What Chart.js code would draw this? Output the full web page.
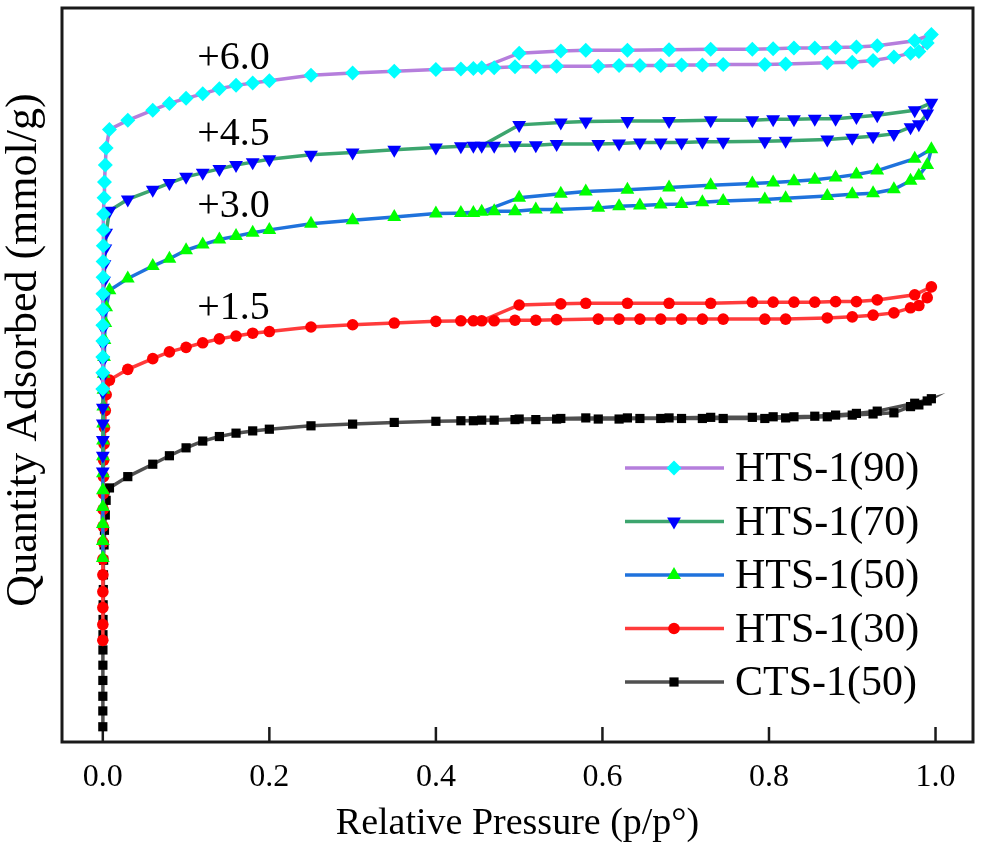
<!DOCTYPE html>
<html>
<head>
<meta charset="utf-8">
<script src="https://cdn.jsdelivr.net/npm/chart.js"></script>
<style>
  html, body { margin: 0; padding: 0; background: #fff; }
  #wrap { width: 981px; height: 847px; }
</style>
</head>
<body>
<div id="wrap"><canvas id="graph" width="981" height="847"></canvas></div>
<script>
// relative pressure grids (p/p0)
const LOW_P = [0.00001, 0.00002, 0.00004, 0.00007, 0.0001, 0.00015, 0.0002, 0.0003,
               0.0004, 0.0006, 0.0008, 0.001, 0.0015, 0.002, 0.003, 0.004];
const ADS_P = [0.008, 0.03, 0.06, 0.08, 0.10, 0.12, 0.14, 0.16, 0.18, 0.20, 0.25, 0.30,
               0.35, 0.40, 0.445, 0.47, 0.495, 0.52, 0.545, 0.595, 0.62, 0.645, 0.67, 0.695,
               0.72, 0.745, 0.795, 0.82, 0.87, 0.90, 0.925, 0.95, 0.97, 0.98, 0.99, 0.995];
const DES_P = [0.975, 0.93, 0.905, 0.88, 0.855, 0.83, 0.805, 0.78, 0.73, 0.68, 0.63, 0.58,
               0.55, 0.50, 0.455, 0.43];

// quantity adsorbed (mmol/g), before the vertical offset
const hts90Low = [0.25, 0.54, 0.82, 1.10, 1.38, 1.66, 1.94, 2.23, 2.51, 2.79, 3.07, 3.35, 3.64, 3.92, 4.22, 4.52];
const hts90Ads = [4.85, 5.01, 5.19, 5.31, 5.40, 5.48, 5.57, 5.63, 5.67, 5.71, 5.81, 5.85, 5.88, 5.91, 5.93, 5.94,
                  5.96, 5.96, 5.97, 5.97, 5.98, 5.98, 5.98, 5.99, 5.99, 6.00, 6.00, 6.01, 6.03, 6.04, 6.07, 6.13,
                  6.20, 6.23, 6.38, 6.53];
const hts90Des = [6.42, 6.33, 6.31, 6.30, 6.29, 6.29, 6.28, 6.27, 6.27, 6.26, 6.25, 6.25, 6.24, 6.20, 5.94, 5.92];

const hts70Low = [0.29, 0.57, 0.85, 1.14, 1.42, 1.70, 1.98, 2.26, 2.55, 2.83, 3.11, 3.39, 3.67, 3.96, 4.24, 4.52];
const hts70Ads = [4.91, 5.11, 5.28, 5.40, 5.51, 5.58, 5.65, 5.72, 5.77, 5.82, 5.90, 5.94, 5.99, 6.03, 6.06, 6.06,
                  6.07, 6.07, 6.09, 6.09, 6.10, 6.12, 6.12, 6.12, 6.13, 6.13, 6.14, 6.15, 6.17, 6.20, 6.23, 6.27,
                  6.39, 6.44, 6.63, 6.82];
const hts70Des = [6.69, 6.60, 6.57, 6.54, 6.54, 6.53, 6.53, 6.51, 6.51, 6.50, 6.50, 6.49, 6.47, 6.43, 6.06, 6.05];

const hts50Low = [0.26, 0.56, 0.86, 1.16, 1.46, 1.76, 2.06, 2.34, 2.64, 2.94, 3.24, 3.52, 3.82, 4.12, 4.42, 4.70];
const hts50Ads = [5.00, 5.21, 5.43, 5.56, 5.71, 5.81, 5.90, 5.96, 6.02, 6.07, 6.18, 6.24, 6.30, 6.36, 6.37, 6.40,
                  6.40, 6.43, 6.43, 6.46, 6.49, 6.50, 6.52, 6.53, 6.56, 6.58, 6.61, 6.63, 6.67, 6.70, 6.72, 6.79,
                  6.94, 7.03, 7.22, 7.50];
const hts50Des = [7.33, 7.12, 7.05, 7.00, 6.96, 6.93, 6.91, 6.89, 6.86, 6.82, 6.78, 6.75, 6.71, 6.64, 6.39, 6.37];

const hts30Low = [0.30, 0.58, 0.88, 1.16, 1.46, 1.74, 2.04, 2.32, 2.62, 2.90, 3.20, 3.49, 3.78, 4.07, 4.37, 4.65];
const hts30Ads = [4.91, 5.10, 5.29, 5.41, 5.49, 5.57, 5.64, 5.69, 5.74, 5.77, 5.85, 5.89, 5.92, 5.95, 5.96, 5.96,
                  5.97, 5.97, 5.98, 5.99, 5.99, 5.99, 5.99, 5.99, 5.99, 5.99, 5.99, 5.99, 6.01, 6.03, 6.06, 6.10,
                  6.19, 6.23, 6.37, 6.56];
const hts30Des = [6.42, 6.33, 6.30, 6.30, 6.29, 6.29, 6.29, 6.29, 6.27, 6.27, 6.27, 6.27, 6.26, 6.24, 5.96, 5.96];

const cts50Low = [0.27, 0.55, 0.81, 1.09, 1.36, 1.63, 1.90, 2.17, 2.43, 2.70, 2.96, 3.22, 3.49, 3.75, 4.02, 4.28];
const cts50Ads = [4.50, 4.70, 4.92, 5.07, 5.21, 5.33, 5.41, 5.47, 5.51, 5.54, 5.60, 5.63, 5.66, 5.68, 5.69, 5.70,
                  5.71, 5.71, 5.72, 5.72, 5.72, 5.73, 5.73, 5.73, 5.73, 5.73, 5.73, 5.74, 5.76, 5.79, 5.81, 5.83,
                  5.94, 5.97, 6.04, 6.08];
const cts50Des = [6.00, 5.86, 5.82, 5.79, 5.77, 5.76, 5.76, 5.75, 5.75, 5.74, 5.74, 5.74, 5.73, 5.72, 5.70, 5.69];

const SERIES = ["HTS-1(90)", "HTS-1(70)", "HTS-1(50)", "HTS-1(30)", "CTS-1(50)"];
const OFFSETS = [6.0, 4.5, 3.0, 1.5, 0];
const OFFSET_LABELS = ["+6.0", "+4.5", "+3.0", "+1.5"];
const OFFSET_LABEL_P = 0.157;
const OFFSET_LABEL_Q = [12.10, 10.76, 9.48, 7.68];

const X_TICKS = [0, 0.2, 0.4, 0.6, 0.8, 1.0];
const X_TICK_LABELS = ["0.0", "0.2", "0.4", "0.6", "0.8", "1.0"];

const lineColors = ["#b57edc", "#3ca56e", "#1f72dc", "#ff3b3b", "#505050"];
const markColors = ["#00ffff", "#0000ff", "#00ff00", "#ff0000", "#000000"];
const markStyles = ["rectRot", "triangle", "triangle", "circle", "rect"];
const markRot = [0, 180, 0, 0, 0];
const markRadius = [7.5, 8, 8, 5.8, 6.5];

const lows = [hts90Low, hts70Low, hts50Low, hts30Low, cts50Low];
const adss = [hts90Ads, hts70Ads, hts50Ads, hts30Ads, cts50Ads];
const dess = [hts90Des, hts70Des, hts50Des, hts30Des, cts50Des];

function isotherm(i) {
    const pts = [];
    const off = OFFSETS[i];
    LOW_P.forEach((p, k) => pts.push({x: p, y: lows[i][k] + off}));
    ADS_P.forEach((p, k) => pts.push({x: p, y: adss[i][k] + off}));
    DES_P.forEach((p, k) => pts.push({x: p, y: dess[i][k] + off}));
    return pts;
}

const datasets = SERIES.map((name, i) => ({
    label: name,
    data: isotherm(i),
    showLine: true,
    borderColor: lineColors[i],
    borderWidth: 3.5,
    tension: 0,
    pointStyle: markStyles[i],
    pointRotation: markRot[i],
    pointRadius: markRadius[i],
    pointBackgroundColor: markColors[i],
    pointBorderWidth: 0,
}));

const FONT = "'Liberation Serif', 'Times New Roman', serif";

const extras = {
    id: "extras",
    beforeDatasetsDraw(chart) {
        const {ctx, chartArea, scales} = chart;
        ctx.save();
        ctx.strokeStyle = "#1a1a1a";
        ctx.lineWidth = 2.5;
        X_TICKS.forEach(v => {
            const x = scales.x.getPixelForValue(v);
            ctx.beginPath();
            ctx.moveTo(x, chartArea.bottom);
            ctx.lineTo(x, chartArea.bottom - 15);
            ctx.stroke();
        });
        ctx.restore();
    },
    afterDraw(chart) {
        const {ctx, chartArea, scales} = chart;
        ctx.save();
        // frame
        ctx.strokeStyle = "#1a1a1a";
        ctx.lineWidth = 3;
        ctx.strokeRect(chartArea.left, chartArea.top, chartArea.right - chartArea.left, chartArea.bottom - chartArea.top);

        // offset labels
        ctx.fillStyle = "#000";
        ctx.font = "40px " + FONT;
        ctx.textAlign = "center";
        ctx.textBaseline = "middle";
        OFFSET_LABELS.forEach((t, i) => {
            ctx.fillText(t, scales.x.getPixelForValue(OFFSET_LABEL_P), scales.y.getPixelForValue(OFFSET_LABEL_Q[i]));
        });

        // legend
        ctx.font = "42px " + FONT;
        ctx.textAlign = "left";
        SERIES.forEach((name, i) => {
            const y = 468 + i * 53.5;
            ctx.strokeStyle = lineColors[i];
            ctx.lineWidth = 3.5;
            ctx.beginPath();
            ctx.moveTo(625, y);
            ctx.lineTo(724, y);
            ctx.stroke();
            ctx.fillStyle = markColors[i];
            if (Chart.helpers && Chart.helpers.drawPoint) {
                Chart.helpers.drawPoint(ctx, {pointStyle: markStyles[i], rotation: markRot[i], radius: markRadius[i], borderWidth: 0}, 674, y);
            }
            ctx.fillStyle = "#000";
            ctx.fillText(name, 735, y + 2);
        });

        // y title
        ctx.translate(24, 350);
        ctx.rotate(-Math.PI / 2);
        ctx.font = "44px " + FONT;
        ctx.textAlign = "center";
        ctx.fillText("Quantity Adsorbed (mmol/g)", 0, 0);
        ctx.restore();
    }
};

const chart = new Chart(document.getElementById("graph"), {
    type: "scatter",
    data: {datasets: datasets},
    options: {
        responsive: false,
        animation: false,
        devicePixelRatio: 1,
        layout: {padding: {left: 62, right: 8, top: 4, bottom: 0}},
        plugins: {legend: {display: false}, tooltip: {enabled: false}},
        scales: {
            x: {
                type: "linear",
                min: -0.049,
                max: 1.045,
                grid: {display: false, drawTicks: false},
                border: {display: false},
                afterBuildTicks: s => { s.ticks = X_TICKS.map(v => ({value: v})); },
                afterFit: s => { s.height = 105; },
                ticks: {
                    padding: 16,
                    color: "#000",
                    font: {family: FONT, size: 32},
                    callback: (v, i) => X_TICK_LABELS[i],
                },
                title: {
                    display: true,
                    text: "Relative Pressure (p/p°)",
                    color: "#000",
                    font: {family: FONT, size: 38},
                    padding: {top: 0, bottom: 0},
                },
            },
            y: {
                type: "linear",
                display: false,
                min: 0,
                max: 13,
            },
        },
    },
    plugins: [extras],
});
</script>
</body>
</html>
